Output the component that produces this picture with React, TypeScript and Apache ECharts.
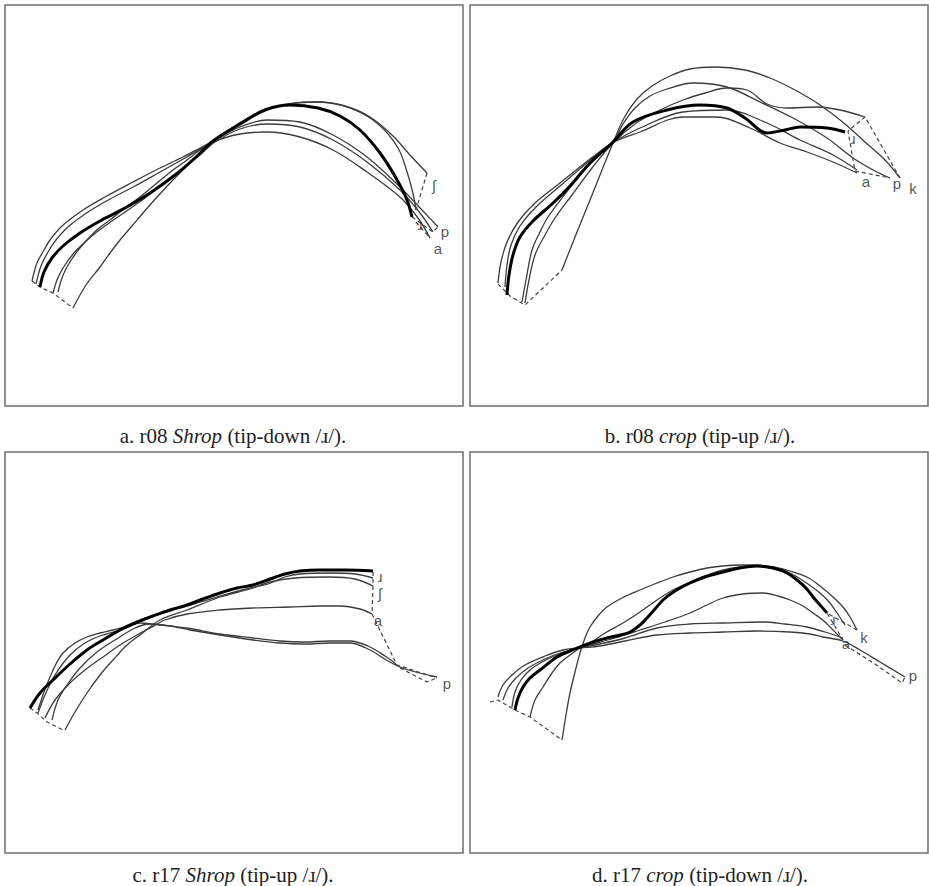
import React, { useEffect, useRef } from "react";
import * as echarts from "echarts";

type Pt = [number, number];
type Lab = [number, number, string];

// ---------- panel a: r08 Shrop (tip-down) ----------
const aThick: Pt[] = [[40,287],[44,272],[52,258],[63,246],[80,233],[100,221],[125,208],[150,193],[175,175],[195,158],[213,141],[240,124],[265,110],[290,105],[318,108],[340,116],[360,130],[380,153],[396,178],[407,200],[412,217]];
const aSh: Pt[] = [[73,308],[86,285],[100,267],[110,253],[120,240],[132,226],[143,213],[158,196],[173,180],[187,166],[200,153],[213,142],[235,126],[260,112],[290,104],[315,102],[345,106],[370,117],[392,135],[410,155],[427,173]];
const aTop2: Pt[] = [[58,292],[62,278],[67,267],[76,253],[87,240],[98,229],[110,220],[125,208],[140,197],[157,183],[173,170],[187,160],[200,150],[213,142],[238,124],[265,110],[295,103],[320,102],[350,108],[378,124],[398,148],[408,175],[414,198],[416,210]];
const aMid: Pt[] = [[53,293],[57,280],[63,268],[73,254],[85,242],[98,231],[112,221],[128,210],[145,198],[162,185],[180,171],[200,155],[215,142],[240,129],[267,124],[300,127],[333,140],[367,162],[400,190],[420,213],[433,232]];
const aP: Pt[] = [[32,281],[37,263],[44,250],[50,240],[62,226],[83,210],[105,197],[133,182],[160,168],[183,157],[200,148],[213,141],[240,127],[267,120],[300,122],[333,135],[367,157],[400,187],[422,210],[438,227]];
const aA: Pt[] = [[36,284],[41,266],[48,252],[56,240],[68,227],[88,212],[110,199],[135,186],[160,172],[185,158],[213,142],[240,134],[267,132],[300,137],[333,150],[367,172],[400,197],[418,218],[430,238]];
const aDashRoot: Pt[] = [[32,281],[40,287],[53,293],[73,308]];
const aDashTip1: Pt[] = [[427,173],[416,210]];
const aDashTip2: Pt[] = [[412,217],[433,232],[438,227]];
const aDashTip3: Pt[] = [[416,222],[430,238]];
const aLabels: Lab[] = [[434,185,"ʃ"],[420,224,"ɹ"],[445,231,"p"],[438,248,"a"]];

// ---------- panel b: r08 crop (tip-up) ----------
const bThick: Pt[] = [[507,295],[509,275],[513,255],[520,237],[533,221],[552,204],[570,186],[590,163],[612,143],[633,122],[667,110],[700,105],[727,108],[745,118],[767,133],[785,130],[800,127],[827,128],[845,132]];
const bTop: Pt[] = [[562,270],[575,237],[590,200],[602,170],[613,143],[624,118],[637,99],[652,86],[670,76],[690,69],[715,67],[745,70],[770,78],[795,90],[820,105],[845,124],[865,142],[885,160],[900,178]];
const bSecond: Pt[] = [[522,302],[526,280],[532,250],[540,232],[548,217],[565,194],[582,173],[598,156],[613,143],[623,124],[635,108],[650,96],[667,89],[693,83],[727,87],[760,102],[793,118],[827,138],[853,158],[875,171],[890,178]];
const bThird: Pt[] = [[525,303],[529,280],[535,255],[545,235],[555,218],[572,195],[592,168],[613,143],[635,124],[660,110],[683,100],[705,93],[727,88],[747,90],[767,104],[787,108],[817,107],[840,110],[865,117]];
const bFourth: Pt[] = [[498,283],[501,262],[507,242],[518,222],[535,203],[560,183],[585,163],[612,143],[640,128],[683,112],[727,110],[767,123],[800,140],[833,155],[857,170]];
const bFifth: Pt[] = [[505,287],[507,265],[511,245],[520,226],[536,207],[560,186],[588,162],[612,143],[640,132],[683,117],[717,117],[750,128],[780,143],[807,152],[833,162],[857,173]];
const bDashRoot: Pt[] = [[498,284],[510,296],[525,305],[562,270]];
const bDashTip: Pt[] = [[900,178],[865,117],[848,131],[855,171],[890,178]];
const bLabels: Lab[] = [[853,138,"ɹ"],[866,181,"a"],[897,183,"p"],[913,188,"k"]];

// ---------- panel c: r17 Shrop (tip-up) ----------
const cThick: Pt[] = [[30,708],[40,693],[53,680],[70,664],[87,650],[103,640],[120,630],[137,622],[153,616],[170,610],[187,605],[203,599],[220,593],[237,588],[253,585],[270,579],[285,574],[300,571],[320,570],[345,570],[373,571]];
const cTop2: Pt[] = [[38,713],[45,695],[55,675],[70,655],[85,643],[100,636],[120,630],[140,622],[160,614],[187,606],[220,596],[250,588],[268,584],[285,577],[300,574],[330,573],[355,574],[373,578]];
const cSh: Pt[] = [[65,730],[75,712],[87,693],[100,675],[113,660],[127,645],[140,635],[160,620],[187,610],[220,597],[250,589],[270,582],[295,578],[330,577],[355,579],[373,586]];
const cA: Pt[] = [[45,718],[55,700],[70,683],[85,670],[103,657],[120,645],[137,635],[150,628],[165,620],[187,614],[220,610],[253,608],[290,607],[320,606],[340,606],[360,609],[372,614]];
const cP1: Pt[] = [[38,710],[44,692],[50,677],[56,664],[63,653],[75,643],[87,637],[100,633],[113,630],[128,626],[140,623],[160,625],[187,628],[220,634],[253,638],[280,641],[303,642],[330,641],[350,641],[368,646],[385,656],[397,665]];
const cP2: Pt[] = [[52,720],[58,700],[67,685],[80,668],[97,652],[115,640],[135,628],[150,624],[170,626],[190,630],[220,635],[253,640],[280,643],[305,644],[330,643],[350,643],[370,650],[388,661],[405,669],[437,677]];
const cDashRoot: Pt[] = [[30,708],[37,713],[47,722],[65,731]];
const cDashTip: Pt[] = [[373,572],[373,586],[372,614],[397,665],[437,678]];
const cDashTip2: Pt[] = [[400,668],[427,682],[437,678]];
const cLabels: Lab[] = [[380,576,"ɹ"],[380,593,"ʃ"],[378,620,"a"],[447,683,"p"]];

// ---------- panel d: r17 crop (tip-down) ----------
const dThick: Pt[] = [[515,710],[518,698],[523,687],[530,678],[540,670],[557,657],[570,651],[580,647],[593,642],[607,638],[620,635],[630,632],[640,625],[647,618],[655,609],[663,600],[675,591],[690,583],[705,577],[723,572],[740,568],[757,566],[773,568],[787,573],[797,580],[806,588],[813,597],[820,605],[827,613]];
const dK: Pt[] = [[562,740],[566,715],[570,693],[575,672],[580,653],[585,638],[590,627],[598,616],[607,607],[622,598],[640,590],[657,583],[673,577],[690,572],[707,568],[723,566],[740,565],[757,565],[773,567],[790,571],[807,577],[820,586],[833,597],[843,607],[850,617],[857,630]];
const dSecond: Pt[] = [[530,717],[535,700],[543,687],[552,673],[560,663],[570,655],[580,648],[590,643],[605,633],[623,623],[640,612],[657,600],[673,590],[690,582],[707,575],[723,570],[740,567],[757,566],[773,567],[790,573],[805,582],[820,593],[830,603],[837,613],[845,625]];
const dThird: Pt[] = [[512,707],[515,692],[521,680],[530,670],[542,662],[557,655],[572,650],[590,645],[615,638],[640,630],[665,622],[690,613],[707,605],[723,598],[743,594],[763,593],[778,596],[790,600],[803,606],[813,613],[824,621],[833,630],[843,640]];
const dA: Pt[] = [[503,700],[508,688],[516,678],[528,668],[545,659],[563,652],[580,648],[600,644],[625,638],[657,628],[690,624],[723,623],[763,622],[785,624],[807,627],[825,632],[843,638]];
const dP: Pt[] = [[498,697],[503,685],[512,675],[525,665],[545,656],[563,650],[580,648],[600,646],[625,641],[657,635],[690,633],[723,632],[757,631],[790,632],[810,634],[823,637],[843,641],[860,650],[880,662],[905,677]];
const dDashRoot: Pt[] = [[490,702],[498,700],[515,710],[530,717],[562,740]];
const dDashTip: Pt[] = [[857,630],[827,613],[843,640]];
const dDashBand: Pt[] = [[845,645],[875,664],[902,683],[905,677]];
const dLabels: Lab[] = [[833,619,"ɹ"],[864,637,"k"],[846,643,"a"],[913,675,"p"]];

// ---------- captions ----------
const capLead = ["a. r08 ", "b. r08 ", "c. r17 ", "d. r17 "];
const capWord = ["Shrop", "crop", "Shrop", "crop"];
const capTail = [" (tip-down /ɹ/).", " (tip-up /ɹ/).", " (tip-up /ɹ/).", " (tip-down /ɹ/)."];

const panels = [
  { thick: aThick, thin: [aSh, aTop2, aMid, aP, aA], dashed: [aDashRoot, aDashTip1, aDashTip2, aDashTip3], labels: aLabels },
  { thick: bThick, thin: [bTop, bSecond, bThird, bFourth, bFifth], dashed: [bDashRoot, bDashTip], labels: bLabels },
  { thick: cThick, thin: [cTop2, cSh, cA, cP1, cP2], dashed: [cDashRoot, cDashTip, cDashTip2], labels: cLabels },
  { thick: dThick, thin: [dK, dSecond, dThird, dA, dP], dashed: [dDashRoot, dDashTip, dDashBand], labels: dLabels },
];

const gridLeft = [5, 470, 5, 470];
const gridTop = [5, 5, 452, 452];
const gridW = 458;
const gridH = 401;
const capX = [233, 700, 233, 700];
const capY = [436, 436, 875, 875];

export default function App() {
  const ref = useRef<HTMLDivElement>(null);
  useEffect(() => {
    if (!ref.current) return;
    const chart = echarts.init(ref.current, undefined, { renderer: "svg" });
    const grid: any[] = [];
    const xAxis: any[] = [];
    const yAxis: any[] = [];
    const series: any[] = [];
    panels.forEach((p, i) => {
      grid.push({
        left: gridLeft[i], top: gridTop[i], width: gridW, height: gridH,
        show: true, borderColor: "#6e6e6e", borderWidth: 1.5, backgroundColor: "#ffffff",
      });
      xAxis.push({ type: "value", gridIndex: i, min: gridLeft[i], max: gridLeft[i] + gridW, show: false });
      yAxis.push({ type: "value", gridIndex: i, min: gridTop[i], max: gridTop[i] + gridH, inverse: true, show: false });
      p.thin.forEach((d) => {
        series.push({
          type: "line", xAxisIndex: i, yAxisIndex: i, data: d, smooth: 0.35, showSymbol: false, silent: true,
          lineStyle: { color: "#3c3c3c", width: 1.3 },
        });
      });
      p.dashed.forEach((d) => {
        series.push({
          type: "line", xAxisIndex: i, yAxisIndex: i, data: d, smooth: false, showSymbol: false, silent: true,
          lineStyle: { color: "#444", width: 1.2, type: [4, 3] },
        });
      });
      series.push({
        type: "line", xAxisIndex: i, yAxisIndex: i, data: p.thick, smooth: 0.35, showSymbol: false, silent: true,
        lineStyle: { color: "#000", width: 3 }, z: 5,
      });
      series.push({
        type: "scatter", xAxisIndex: i, yAxisIndex: i, data: p.labels, symbolSize: 1, silent: true,
        itemStyle: { color: "rgba(0,0,0,0)" },
        label: {
          show: true, position: "inside", formatter: (q: any) => q.data[2],
          fontFamily: "Liberation Sans, DejaVu Sans, sans-serif", fontSize: 15, color: "#2a2a2a",
          textBorderWidth: 0, textBorderColor: "transparent",
        },
        z: 6,
      });
    });
    const graphic = capLead.map((lead, i) => ({
      type: "text", x: capX[i], y: capY[i],
      style: {
        text: `{n|${lead}}{i|${capWord[i]}}{n|${capTail[i]}}`,
        align: "center", verticalAlign: "middle",
        rich: {
          n: { fontFamily: "Liberation Serif, DejaVu Serif, serif", fontSize: 21, fill: "#1e1e1e" },
          i: { fontFamily: "Liberation Serif, DejaVu Serif, serif", fontSize: 21, fontStyle: "italic", fill: "#1e1e1e" },
        },
      },
    }));
    chart.setOption({ animation: false, backgroundColor: "#ffffff", grid, xAxis, yAxis, series, graphic });
    return () => chart.dispose();
  }, []);
  return <div ref={ref} style={{ position: "absolute", left: 0, top: 0, width: 929, height: 886 }} />;
}
